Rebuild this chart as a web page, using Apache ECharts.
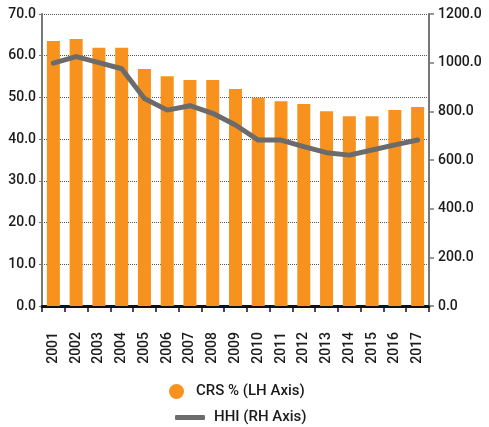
<!DOCTYPE html>
<html><head><meta charset="utf-8">
<script src="https://cdn.jsdelivr.net/npm/echarts@6/dist/echarts.min.js"></script>
<style>html,body{margin:0;padding:0;background:#fff}#c{width:489px;height:427px}</style>
</head><body><div id="c"></div>
<script>
const years = ['2001','2002','2003','2004','2005','2006','2007','2008','2009','2010','2011','2012','2013','2014','2015','2016','2017'];
const crs = [63.5,64.0,61.9,61.9,56.8,55.1,54.2,54.2,52.0,49.9,49.1,48.4,46.7,45.5,45.5,47.0,47.7];
const hhi = [998,1025,1000,975,853,805,823,792,744,682,682,655,630,620,641,662,682];
const fontFam = 'Roboto,"DejaVu Sans Condensed",sans-serif';
const fw = 500;
const chart = echarts.init(document.getElementById('c'));
chart.setOption({
  animation:false,
  textStyle:{fontFamily:fontFam},
  grid:{left:42,right:60,top:14,bottom:121,containLabel:false},
  legend:[
    {data:['CRS % (LH Axis)'],orient:'vertical',left:164,top:379,icon:'circle',itemWidth:29,itemHeight:15,
     textStyle:{fontFamily:fontFam,fontSize:15,fontWeight:fw,color:'#1a1a1a'}},
    {data:['HHI (RH Axis)'],orient:'vertical',left:170,top:405,icon:'roundRect',itemWidth:30,itemHeight:5,
     textStyle:{fontFamily:fontFam,fontSize:15,fontWeight:fw,color:'#1a1a1a',padding:[0,0,0,4]}}
  ],
  xAxis:{type:'category',data:years,
    axisLine:{lineStyle:{color:'#111',width:3}},
    axisTick:{show:true,alignWithLabel:false,length:6,lineStyle:{color:'#111',width:1.5}},
    axisLabel:{rotate:90,fontSize:14,fontWeight:fw,color:'#1a1a1a',margin:26,fontFamily:fontFam}},
  yAxis:[
    {type:'value',min:0,max:70,interval:10,position:'left',
     axisLine:{show:true,lineStyle:{color:'#777',width:2}},
     axisTick:{show:true,length:3,lineStyle:{color:'#777'}},
     axisLabel:{formatter:v=>v.toFixed(1),fontSize:14,fontWeight:fw,color:'#1a1a1a',margin:6,fontFamily:fontFam},
     splitLine:{show:true,lineStyle:{type:'dotted',color:'#555',width:1}}},
    {type:'value',min:0,max:1200,interval:200,position:'right',
     axisLine:{show:true,lineStyle:{color:'#777',width:2}},
     axisTick:{show:true,length:5,lineStyle:{color:'#777',width:1.5}},
     axisLabel:{formatter:v=>v.toFixed(1),fontSize:14,fontWeight:fw,color:'#1a1a1a',margin:9,fontFamily:fontFam},
     splitLine:{show:false}}
  ],
  series:[
    {name:'CRS % (LH Axis)',type:'bar',data:crs,yAxisIndex:0,barWidth:13,
     itemStyle:{color:'#F7921E'}},
    {name:'HHI (RH Axis)',type:'line',data:hhi,yAxisIndex:1,symbol:'none',
     lineStyle:{color:'#6b6b6b',width:5,cap:'round',join:'round'},itemStyle:{color:'#6b6b6b'}}
  ]
});
</script></body></html>
